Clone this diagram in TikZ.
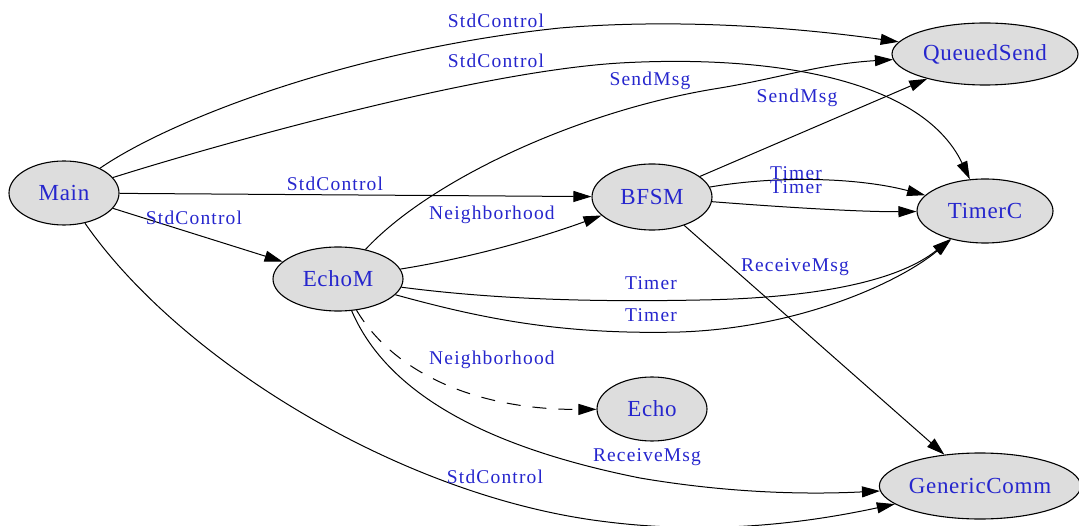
\documentclass[tikz,border=0pt]{standalone}
\usepackage{fontspec}
\setmainfont{Liberation Serif}
\newfontfamily\compfont{Liberation Serif}[LetterSpace=3]
\newfontfamily\ifacefont{Liberation Serif}[LetterSpace=6]
\usetikzlibrary{arrows.meta,shapes.geometric}
\definecolor{ink}{RGB}{38,38,205}
\definecolor{compfill}{RGB}{221,221,221}

\tikzset{
  comp/.style={ellipse, draw=black, line width=1.1pt, fill=compfill, inner sep=0pt,
    text=ink, font=\compfont\fontsize{23}{26}\selectfont},
  wire/.style={draw=black, line width=1pt, -{Triangle[length=18pt,width=11pt]}},
  hint/.style={wire, dash pattern=on 14pt off 12pt},
  iface/.style={text=ink, font=\ifacefont\fontsize{19.5}{22}\selectfont,
    anchor=base, inner sep=0pt}
}

\begin{document}
\begin{tikzpicture}[x=1pt,y=-1pt]
\useasboundingbox (0,0) rectangle (1079,526);

% components
\node[comp, minimum width=110pt, minimum height=64pt] (Main)        at (64,193)  {Main};
\node[comp, minimum width=186pt, minimum height=62pt] (QueuedSend)  at (985,54)  {QueuedSend};
\node[comp, minimum width=120pt, minimum height=66pt] (BFSM)        at (652,197) {BFSM};
\node[comp, minimum width=136pt, minimum height=64pt] (TimerC)      at (985,211) {TimerC};
\node[comp, minimum width=130pt, minimum height=64pt] (EchoM)       at (338,279) {EchoM};
\node[comp, minimum width=110pt, minimum height=64pt] (Echo)        at (652,409) {Echo};
\node[comp, minimum width=196pt, minimum height=66pt] (GenericComm) at (980,486) {GenericComm};

% wiring from Main
\draw[wire] (Main) .. controls (170,120) and (350,50) .. (560,28)
            .. controls (680,18) and (800,28) .. (QueuedSend);
\draw[wire] (Main) .. controls (200,150) and (470,72) .. (620,63)
            .. controls (760,55) and (920,75) .. (TimerC);
\draw[wire] (Main) -- (BFSM);
\draw[wire] (Main) -- (EchoM);
\draw[wire] (Main) .. controls (180,360) and (400,495) .. (600,521)
            .. controls (720,537) and (820,520) .. (GenericComm);

% wiring from EchoM
\draw[wire] (EchoM) .. controls (430,180) and (580,110) .. (720,88)
            .. controls (780,78) and (820,64) .. (QueuedSend);
\draw[wire] (EchoM) .. controls (470,258) and (540,238) .. (BFSM);
\draw[wire] (EchoM) .. controls (500,300) and (600,302) .. (700,300)
            .. controls (820,298) and (900,280) .. (TimerC);
\draw[wire] (EchoM) .. controls (480,318) and (560,335) .. (680,332)
            .. controls (800,328) and (900,282) .. (TimerC);
\draw[hint] (EchoM) .. controls (395,375) and (480,410) .. (Echo);
\draw[wire] (EchoM) .. controls (390,400) and (500,450) .. (640,478)
            .. controls (740,495) and (820,494) .. (GenericComm);

% wiring from BFSM
\draw[wire] (BFSM) -- (QueuedSend);
\draw[wire] (BFSM) .. controls (780,175) and (860,178) .. (TimerC);
\draw[wire] (BFSM) .. controls (780,207) and (860,212) .. (TimerC);
\draw[wire] (BFSM) -- (GenericComm);

% interface labels
\node[iface] (l1)  at (496,28)  {StdControl};
\node[iface] (l2)  at (496,68)  {StdControl};
\node[iface] (l3)  at (650,86)  {SendMsg};
\node[iface] (l4)  at (797,103) {SendMsg};
\node[iface] (l5)  at (335,191) {StdControl};
\node[iface] (l6)  at (194,225) {StdControl};
\node[iface] (l7)  at (492,220) {Neighborhood};
\node[iface] (l8)  at (796,180) {Timer};
\node[iface] (l9)  at (796,194) {Timer};
\node[iface] (l10) at (651,290) {Timer};
\node[iface] (l11) at (651,322) {Timer};
\node[iface] (l12) at (795,272) {ReceiveMsg};
\node[iface] (l13) at (492,365) {Neighborhood};
\node[iface] (l14) at (647,461) {ReceiveMsg};
\node[iface] (l15) at (495,483) {StdControl};
\end{tikzpicture}
\end{document}
